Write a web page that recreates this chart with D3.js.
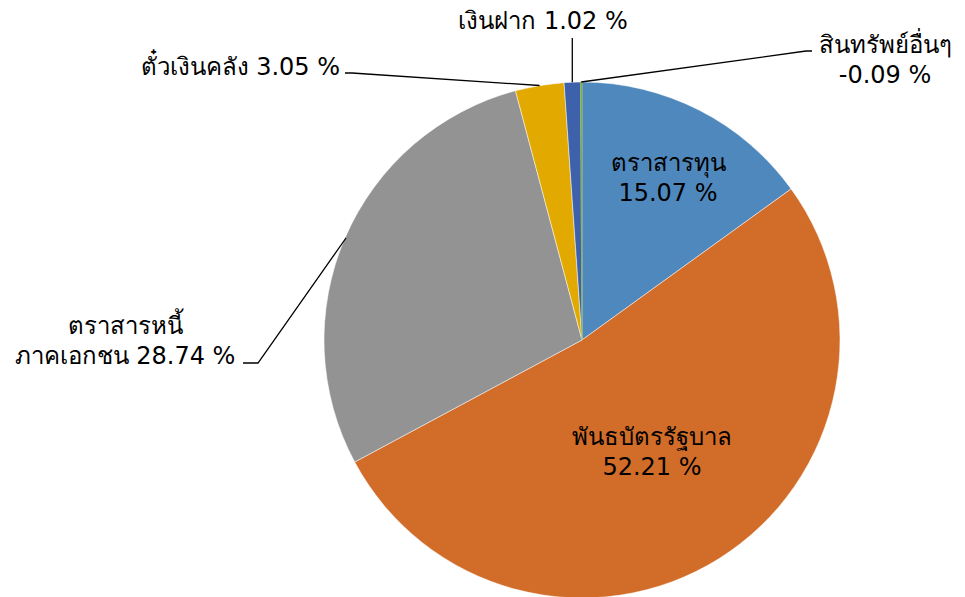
<!DOCTYPE html>
<html><head><meta charset="utf-8">
<script src="https://cdn.jsdelivr.net/npm/d3@7"></script>
<style>body{margin:0;background:#fff}</style>
</head><body>
<svg id="c" width="965" height="597"></svg>
<script>
const categories = ["ตราสารทุน","พันธบัตรรัฐบาล","ตราสารหนี้ภาคเอกชน","ตั๋วเงินคลัง","เงินฝาก","สินทรัพย์อื่นๆ"];
const values = [15.07, 52.21, 28.74, 3.05, 1.02, -0.09];
const colors = ["#4F88BD","#D26C29","#939393","#E2A900","#3D62AB","#7FAE4E"];
const valueLabels = ["15.07 %","52.21 %","28.74 %","3.05 %","1.02 %","-0.09 %"];

const svg = d3.select("#c");
const cx = 582, cy = 340, R = 258;
const font = "Tahoma, 'DejaVu Sans', 'Noto Sans', sans-serif";
const fs = 24;

const data = categories.map((c,i)=>({cat:c, v:values[i], col:colors[i], lab:valueLabels[i]}));
const pie = d3.pie().sort(null).value(d=>Math.abs(d.v)).startAngle(0).endAngle(2*Math.PI);
const arcs = pie(data);
const arc = d3.arc().innerRadius(0).outerRadius(R);
const g = svg.append("g").attr("transform",`translate(${cx},${cy})`);
g.selectAll("path").data(arcs).join("path")
  .attr("d",arc).attr("fill",d=>d.data.col)
  .attr("stroke",(d,i)=>i===5?d.data.col:"#fff").attr("stroke-width",(d,i)=>i===5?0.6:0.5);

function pt(a, r){ return [Math.sin(a)*r, -Math.cos(a)*r]; }
const mid = a=> (a.startAngle+a.endAngle)/2;

// inside labels
const inside = [
  {i:0, pos:[668,177], lines:[categories[0],valueLabels[0]]},
  {i:1, pos:[652,451], lines:[categories[1],valueLabels[1]]}
];
inside.forEach(o=>{
  const t = svg.append("text").attr("text-anchor","middle").attr("font-family",font).attr("font-size",fs).attr("fill","#000");
  o.lines.forEach((l,k)=>t.append("tspan").attr("x",o.pos[0]).attr("y",o.pos[1]+(k-0.5)*30+9).text(l));
});

// leader lines (outside labels)
const lineG = svg.append("g").attr("fill","none").attr("stroke","#000").attr("stroke-width",1.3);
function edge(i){ const a=arcs[i]; const p=pt(mid(a),R); return [cx+p[0], cy+p[1]]; }

let e = edge(5);
lineG.append("polyline").attr("points",[[e[0],e[1]],[806,51],[812,51]].join(" "));
e = edge(4);
lineG.append("polyline").attr("points",[[e[0],e[1]],[e[0],38]].join(" "));
e = edge(3);
lineG.append("polyline").attr("points",[[e[0],e[1]],[352,73],[345,73]].join(" "));
lineG.append("polyline").attr("points",[[346,238],[258,363],[243,363]].join(" "));

function txt(x,y,lines,anchor){
  const t = svg.append("text").attr("text-anchor",anchor).attr("font-family",font).attr("font-size",fs).attr("fill","#000");
  lines.forEach((l,k)=>t.append("tspan").attr("x",x).attr("y",y+k*30).text(l));
}
txt(885,53,[categories[5],valueLabels[5]],"middle");
txt(543,29,[categories[4]+" "+valueLabels[4]],"middle");
txt(340,75,[categories[3]+" "+valueLabels[3]],"end");
txt(125,334,["ตราสารหนี้","ภาคเอกชน "+valueLabels[2]],"middle");
</script>
</body></html>
